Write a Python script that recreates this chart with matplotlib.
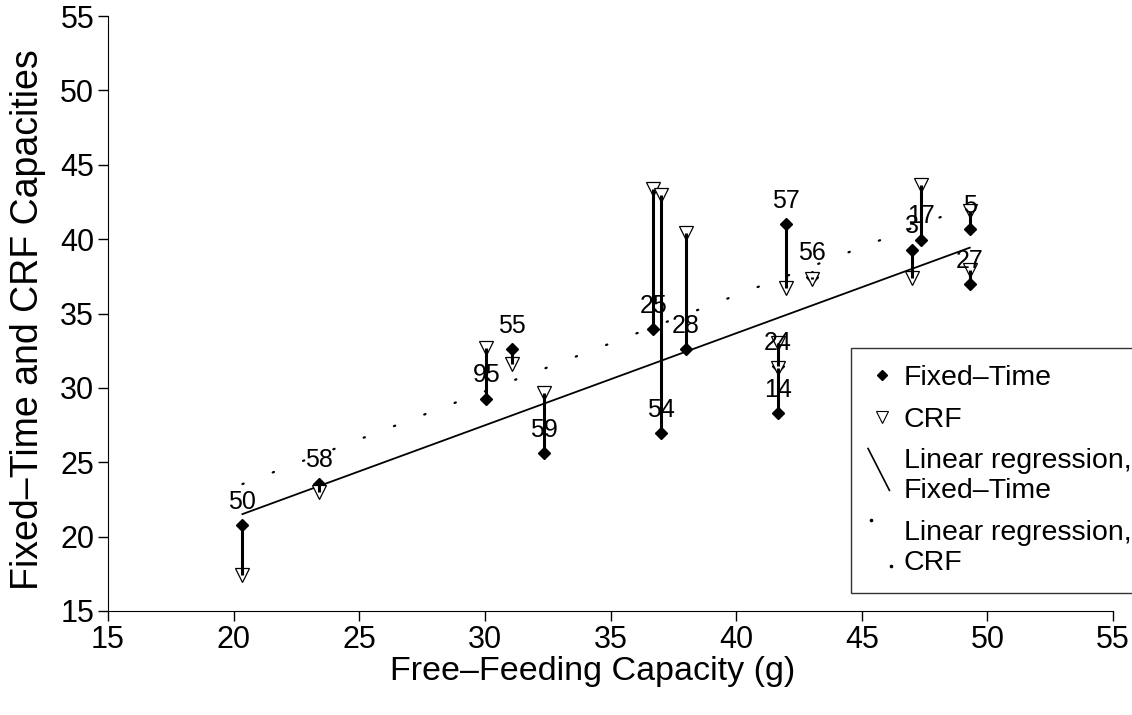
import matplotlib
matplotlib.use('Agg')
import matplotlib.pyplot as plt
import numpy as np
from matplotlib.lines import Line2D
from matplotlib.legend_handler import HandlerBase

plt.rcParams['font.family'] = ['Liberation Sans', 'DejaVu Sans']

# rat ids, free-feeding capacity and the two test capacities (g)
rats = ['50', '58', '95', '55', '59', '25', '54', '28', '57', '56', '24', '14', '3', '17', '5', '27']
free_feed = [20.35, 23.4, 30.06, 31.08, 32.35, 36.7, 37.0, 38.0, 42.0, 43.0, 41.65, 41.65, 47.0, 47.35, 49.3, 49.3]
fixed_time = [20.75, 23.55, 29.25, 32.6, 25.6, 33.95, 26.95, 32.6, 41.0, 37.45, 31.45, 28.3, 39.3, 39.95, 40.65, 36.95]
crf = [17.4, 23.0, 32.7, 31.6, 29.65, 43.35, 43.0, 40.4, 36.7, 37.35, 33.0, 31.35, 37.4, 43.65, 41.9, 37.9]

x = np.array(free_feed)
ft = np.array(fixed_time)
cr = np.array(crf)


# legend handles: short diagonal line / two dots
class DiagHandler(HandlerBase):
    def __init__(self, dotted=False):
        super().__init__()
        self.dotted = dotted

    def create_artists(self, legend, orig_handle, xdescent, ydescent,
                       width, height, fontsize, trans):
        if self.dotted:
            l = Line2D([0.1 * width, 0.8 * width], [height * 1.9, -height * 0.4],
                       ls='none', marker='o', ms=1.6, color='black', transform=trans)
        else:
            l = Line2D([0.0 * width, 0.75 * width], [height * 1.9, -height * 0.2],
                       color='black', lw=1.2, transform=trans)
        return [l]


fig = plt.figure(figsize=(11.32, 7.15), dpi=100)
ax = fig.add_axes([108 / 1132, 1 - 611 / 715, (1113 - 108) / 1132, (611 - 16) / 715])

# regression lines
xs = np.array([x.min(), x.max()])
b_ft = np.polyfit(x, ft, 1)
b_cr = np.polyfit(x, cr, 1)
ax.plot(xs, np.polyval(b_ft, xs), color='black', lw=1.3, zorder=2)
ax.plot(xs, np.polyval(b_cr, xs), color='black', lw=1.6,
        ls=(0, (0.6, 14)), dash_capstyle='round', zorder=2)

# markers and connecting lines
ax.plot(x, ft, 'D', ms=6, color='black', zorder=3)
ax.plot(x, cr, 'v', ms=9.5, mfc='white', mec='black', mew=0.9, zorder=4)
ax.vlines(x, ft, cr, color='black', lw=2.2, zorder=5)

for r, xi, yi in zip(rats, x, ft):
    ax.annotate(r, (xi, yi), xytext=(0, 17), textcoords='offset points',
                ha='center', va='center', fontsize=18, zorder=6)

ax.set_xlim(15, 55)
ax.set_ylim(15, 55)
ax.set_xticks(np.arange(15, 56, 5))
ax.set_yticks(np.arange(15, 56, 5))
ax.tick_params(labelsize=22, length=7, width=1, direction='out', pad=3)
ax.spines['top'].set_visible(False)
ax.spines['right'].set_visible(False)
ax.set_xlabel('Free–Feeding Capacity (g)', fontsize=24.5)
ax.xaxis.set_label_coords(0.482, -0.076)
ax.set_ylabel('Fixed–Time and CRF Capacities', fontsize=27)
ax.yaxis.set_label_coords(-0.062, 0.49)

# legend
h_ft = Line2D([], [], ls='none', marker='D', ms=5, color='black')
h_cr = Line2D([], [], ls='none', marker='v', ms=8, mfc='white', mec='black', mew=0.8)
h_r1 = Line2D([], [])
h_r2 = Line2D([], [])
leg = fig.legend([h_ft, h_cr, h_r1, h_r2],
                 ['Fixed–Time', 'CRF', 'Linear regression,\nFixed–Time', 'Linear regression,\nCRF'],
                 handler_map={h_r1: DiagHandler(), h_r2: DiagHandler(dotted=True)},
                 loc='upper left', bbox_to_anchor=(851 / 1132, 1 - 348 / 715),
                 fontsize=20.5, frameon=True, fancybox=False, edgecolor='black',
                 handlelength=1.0, handletextpad=0.25, borderpad=0.6, labelspacing=0.55,
                 borderaxespad=0)
leg.get_frame().set_linewidth(1.0)

plt.savefig('out.png', dpi=100)
